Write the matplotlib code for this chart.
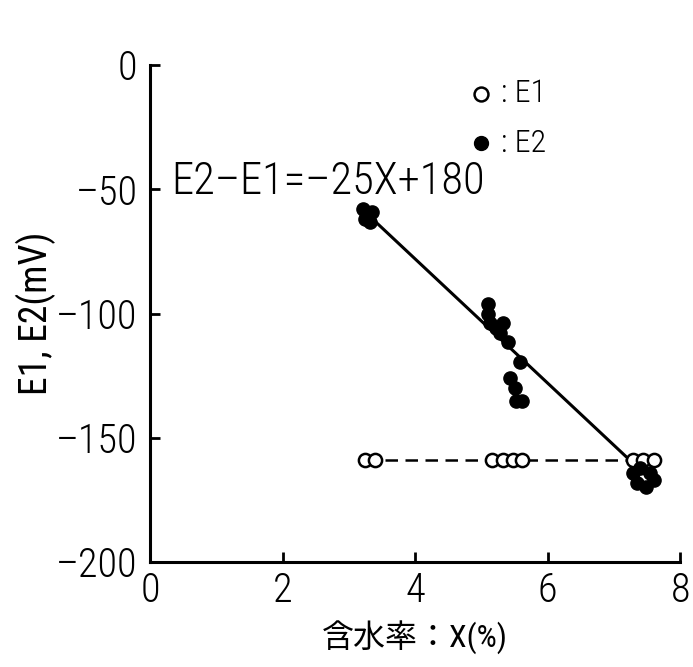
import matplotlib
matplotlib.use('Agg')
import numpy as np
import matplotlib.pyplot as plt

# E1 (open circles)
e1_x = [3.24, 3.39, 5.16, 5.33, 5.48, 5.61, 7.29, 7.44, 7.60]
e1_y = [-159, -159, -159, -159, -159, -159, -159, -159, -159]

# E2 (filled circles)
e2_x = [3.22, 3.28, 3.35, 3.25, 3.32, 5.10, 5.10, 5.13, 5.33, 5.22, 5.28,
        5.40, 5.58, 5.43, 5.51, 5.53, 5.61, 7.29, 7.40, 7.55, 7.35, 7.60, 7.48]
e2_y = [-58, -60, -59, -62, -63, -96, -100, -104, -104, -106, -108,
        -111.5, -119.5, -126, -130, -135, -135, -164, -162, -164, -168, -167, -170]

# regression line for E2 (E2 = -25X + 22, so E2-E1 = -25X + 180)
fit_slope = -25
fit_icept = 22
fit_range = [3.28, 7.6]

x_ticks = [0, 2, 4, 6, 8]
y_ticks = [0, -50, -100, -150, -200]

font = ['Roboto Condensed', 'Liberation Sans', 'Noto Sans CJK JP', 'DejaVu Sans']
plt.rcParams['font.family'] = font
plt.rcParams['font.weight'] = 'light'

fig = plt.figure(figsize=(6.93, 6.67), dpi=100)
ax = fig.add_axes([0.2165, 0.1574, 0.765, 0.745])

# dashed E1 level and solid E2 fit
ax.plot([min(e1_x), max(e1_x)], [np.mean(e1_y)] * 2, color='black', lw=1.8,
        ls=(0, (5, 3)), zorder=1)
fx = np.array(fit_range)
ax.plot(fx, fit_slope * fx + fit_icept, color='black', lw=2.2, zorder=2)

ax.plot(e1_x, e1_y, 'o', ms=9.5, mfc='white', mec='black', mew=1.8, zorder=3)
ax.plot(e2_x, e2_y, 'o', ms=9.5, mfc='black', mec='black', zorder=4)

ax.set_xlim(0, 8)
ax.set_ylim(-200, 0)
ax.set_xticks(x_ticks)
ax.set_yticks(y_ticks)
ax.set_xticklabels([str(t) for t in x_ticks])
ax.set_yticklabels([str(t).replace('-', '\u2013') for t in y_ticks])
ax.tick_params(direction='in', length=7, width=2, labelsize=29, pad=7)
ax.tick_params(axis='y', pad=9)
for side in ['top', 'right']:
    ax.spines[side].set_visible(False)
for side in ['left', 'bottom']:
    ax.spines[side].set_linewidth(2.2)

ax.set_ylabel('E1, E2(mV)', fontsize=27, labelpad=0)
ax.set_xlabel('含水率：X(%)', fontsize=23, labelpad=8)

ax.text(0.32, -52, 'E2\u2013E1=\u201325X+180', fontsize=32, ha='left', va='baseline')

# legend drawn as text with markers
ax.plot([4.99], [-11.5], 'o', ms=10, mfc='white', mec='black', mew=1.8, clip_on=False)
ax.plot([4.99], [-31.5], 'o', ms=10, mfc='black', mec='black', clip_on=False)
ax.text(5.3, -11.5, ': E1', fontsize=23, va='center', ha='left')
ax.text(5.3, -31.5, ': E2', fontsize=23, va='center', ha='left')

fig.savefig('out.png', dpi=100)
